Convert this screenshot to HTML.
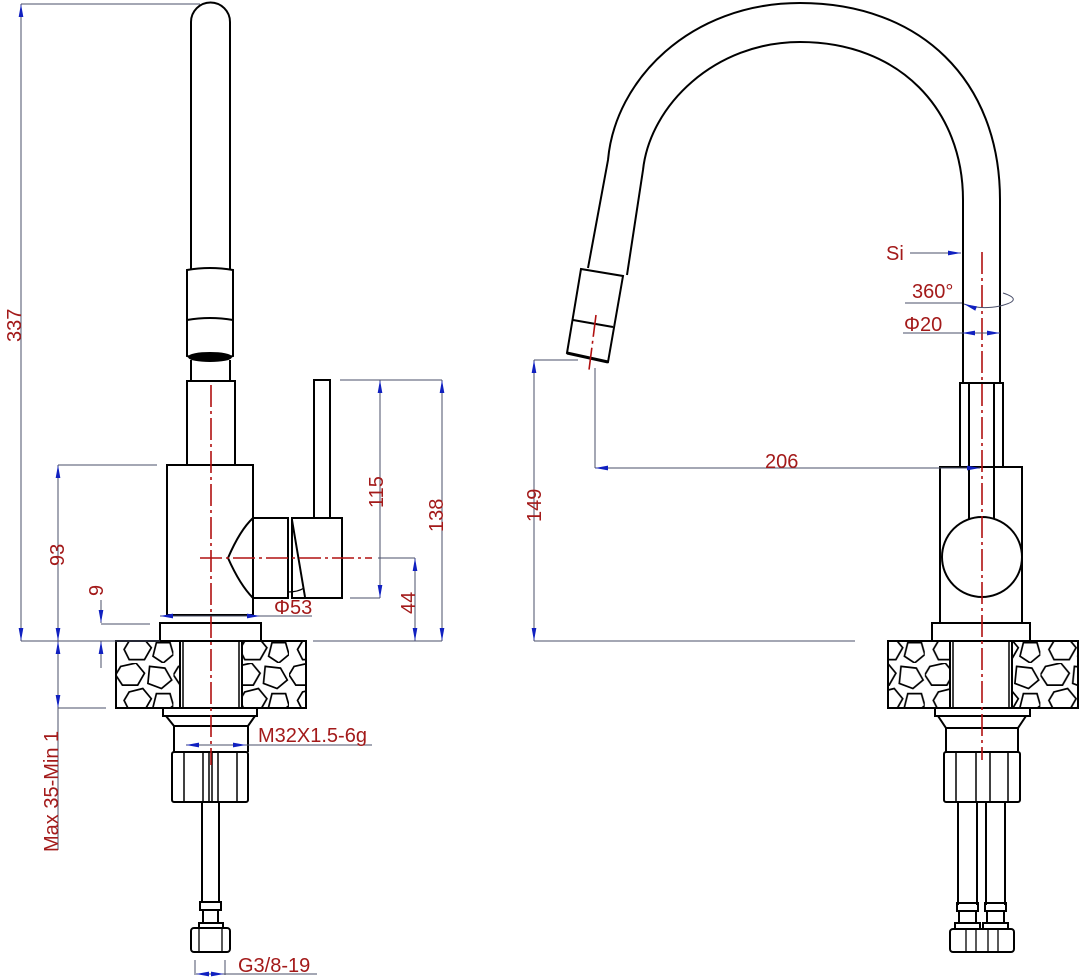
<!DOCTYPE html>
<html><head><meta charset="utf-8"><style>
html,body{margin:0;padding:0;background:#fff;}
svg{display:block;}
text{font-family:"Liberation Sans","DejaVu Sans",sans-serif;fill:#a31a1a;font-size:20px;}
</style></head><body>
<svg width="1080" height="979" viewBox="0 0 1080 979" xmlns="http://www.w3.org/2000/svg">
<defs>
<marker id="a" viewBox="0 0 10 10" refX="10" refY="5" markerWidth="13" markerHeight="13" orient="auto-start-reverse"><path d="M0,3.2 L10,5 L0,6.8z" fill="#1020c0"/></marker>
<pattern id="st" width="34" height="30" patternUnits="userSpaceOnUse" patternTransform="scale(1.7)">
<path d="M3,2 L12,0 L17,6 L13,13 L4,13 L0,7z M20,2 L29,3 L33,10 L27,15 L19,12z M8,17 L16,15 L21,21 L17,28 L8,28 L5,22z M24,18 L32,18 L34,25 L28,30 L22,26z" fill="none" stroke="#000" stroke-width="1"/>
</pattern>
</defs>
<g fill="none" stroke="#000" stroke-width="2">
<!-- LEFT FAUCET -->
<path d="M191,270 L191,22 A19.5,19.5 0 0 1 230,22 L230,270"/>
<path d="M187,270 Q210,266 233,270 L233,356 Q210,362 187,356 Z"/>
<path d="M187,320 Q210,316 233,320"/>
<ellipse cx="210" cy="357" rx="21" ry="4" fill="#000"/>
<path d="M191,360 L191,380 M230,360 L230,380"/>
<rect x="187" y="381" width="48" height="84"/>
<rect x="167" y="465" width="86" height="150"/>
<path d="M253,518 L288,518 L288,598 L253,598 Q240,585 228,558 Q240,530 253,518"/>
<rect x="292" y="518" width="50" height="80"/>
<rect x="314" y="380" width="16" height="138"/>
<path d="M292,520 L305,597" />
<path d="M288,592 Q298,592 304,588" stroke-width="1.3"/>
<rect x="160" y="623" width="101" height="18"/>
<rect x="116" y="641" width="190" height="67" fill="url(#st)"/>
<rect x="180" y="641" width="62" height="67" fill="#fff"/>
<path d="M180,641 V708 M183,641 V708 M239,641 V708 M242,641 V708" stroke-width="1.5"/>
<path d="M163,708 H257 V716 H163 Z"/>
<path d="M166,716 L174,726 H248 L255,716"/>
<path d="M174,726 V752 M248,726 V752"/>
<rect x="172" y="752" width="76" height="50" rx="2"/>
<path d="M184,752 V802 M203,752 V802 M218,752 V802 M237,752 V802 M209,752 V802 M212,752 V802" stroke-width="1.5"/>
<path d="M202,802 V902 M219,802 V902"/>
<rect x="200" y="902" width="21" height="8"/>
<path d="M203,910 V924 M218,910 V924"/>
<rect x="199" y="923" width="24" height="5"/>
<rect x="191" y="928" width="39" height="24" rx="3"/>
<path d="M199,928 V952 M222,928 V952" stroke-width="1.3"/>

<!-- RIGHT FAUCET -->
<path d="M1000,383 L1000,200 C1000,80 920,3 800,3 C690,3 615,80 608,160 L588,268"/>
<path d="M963,383 L963,200 C963,110 900,42 800,42 C715,42 650,105 643,170 L627,275"/>
<path d="M581,269 L623,276 L608,362 L567,353 Z"/>
<path d="M573,320 L613,327"/>
<path d="M567,353 L608,362" stroke-width="3"/>
<rect x="960" y="383" width="43" height="84"/>
<path d="M969,383 V520 M994,383 V520"/>
<rect x="940" y="467" width="82" height="156"/>
<circle cx="982" cy="557" r="40" fill="#fff"/>
<rect x="932" y="623" width="98" height="18"/>
<rect x="888" y="641" width="190" height="67" fill="url(#st)"/>
<rect x="950" y="641" width="62" height="67" fill="#fff"/>
<path d="M950,641 V708 M953,641 V708 M1009,641 V708 M1012,641 V708" stroke-width="1.5"/>
<path d="M935,708 H1030 V716 H935 Z"/>
<path d="M938,716 L946,728 H1018 L1026,716"/>
<path d="M946,728 V752 M1018,728 V752"/>
<rect x="944" y="752" width="76" height="50" rx="2"/>
<path d="M956,752 V802 M976,752 V802 M990,752 V802 M1008,752 V802" stroke-width="1.5"/>
<path d="M958,802 V905 M977,802 V905 M986,802 V905 M1005,802 V905"/>
<rect x="957" y="903" width="21" height="8"/><rect x="985" y="903" width="21" height="8"/>
<path d="M959,911 V923 M976,911 V923 M987,911 V923 M1004,911 V923"/>
<rect x="955" y="923" width="25" height="6"/><rect x="983" y="923" width="25" height="6"/>
<rect x="950" y="929" width="64" height="23" rx="3"/>
<path d="M966,929 V952 M976,929 V952 M988,929 V952 M998,929 V952" stroke-width="1.3"/>
</g>

<!-- centre lines -->
<g stroke="#b01010" stroke-width="1.6" stroke-dasharray="22,4,3,4" fill="none">
<path d="M211,385 V765"/>
<path d="M200,558 H372"/>
<path d="M982,252 V760"/>
<path d="M596,315 L589,370"/>
</g>

<!-- dimension lines -->
<g stroke="#4a4f6a" stroke-width="1" fill="none">
<path d="M21,4 H200"/>
<path d="M21,4 V641" marker-start="url(#a)" marker-end="url(#a)"/>
<path d="M21,641 H160 M313,641 H442"/>
<path d="M58,465 H157"/>
<path d="M58,465 V641" marker-start="url(#a)" marker-end="url(#a)"/>
<path d="M58,641 V708" marker-start="url(#a)" marker-end="url(#a)"/>
<path d="M58,708 V850 M58,708 H106"/>
<path d="M101,600 V623" marker-end="url(#a)"/>
<path d="M101,668 V641" marker-end="url(#a)"/>
<path d="M101,624 H150"/>
<path d="M340,380 H442"/>
<path d="M380,380 V598" marker-start="url(#a)" marker-end="url(#a)"/>
<path d="M350,598 H380"/>
<path d="M442,380 V641" marker-start="url(#a)" marker-end="url(#a)"/>
<path d="M378,558 H415"/>
<path d="M415,558 V641" marker-start="url(#a)" marker-end="url(#a)"/>
<path d="M160,616 H260" marker-start="url(#a)" marker-end="url(#a)"/>
<path d="M260,616 H312"/>
<path d="M186,745 H246" marker-start="url(#a)" marker-end="url(#a)"/>
<path d="M246,745 H372"/>
<path d="M195,960 V975 M225,960 V975"/>
<path d="M196,974 H224" marker-start="url(#a)" marker-end="url(#a)"/>
<path d="M224,974 H317"/>
<!-- right -->
<path d="M534,360 H578"/>
<path d="M534,360 V641" marker-start="url(#a)" marker-end="url(#a)"/>
<path d="M534,641 H855"/>
<path d="M595,368 V468"/>
<path d="M595,468 H980" marker-start="url(#a)" marker-end="url(#a)"/>
<path d="M910,253 H961" marker-end="url(#a)"/>
<path d="M905,303 H962"/>
<path d="M962,333 H1000" marker-start="url(#a)" marker-end="url(#a)"/>
<path d="M903,333 H962"/>
<path d="M1003,293 Q1025,300 1000,306 Q980,310 964,304" marker-end="url(#a)"/>
</g>

<!-- labels -->
<text transform="translate(21,342) rotate(-90)">337</text>
<text transform="translate(64,566) rotate(-90)">93</text>
<text transform="translate(103,596) rotate(-90)">9</text>
<text transform="translate(58,852) rotate(-90)">Max 35-Min 1</text>
<text transform="translate(383,508) rotate(-90)">115</text>
<text transform="translate(443,532) rotate(-90)">138</text>
<text transform="translate(415,614) rotate(-90)">44</text>
<text x="274" y="614">Φ53</text>
<text x="258" y="742">M32X1.5-6g</text>
<text x="238" y="972">G3/8-19</text>
<text transform="translate(541,522) rotate(-90)">149</text>
<text x="765" y="468">206</text>
<text x="886" y="260">Si</text>
<text x="912" y="298">360°</text>
<text x="904" y="331">Φ20</text>
</svg>
</body></html>
